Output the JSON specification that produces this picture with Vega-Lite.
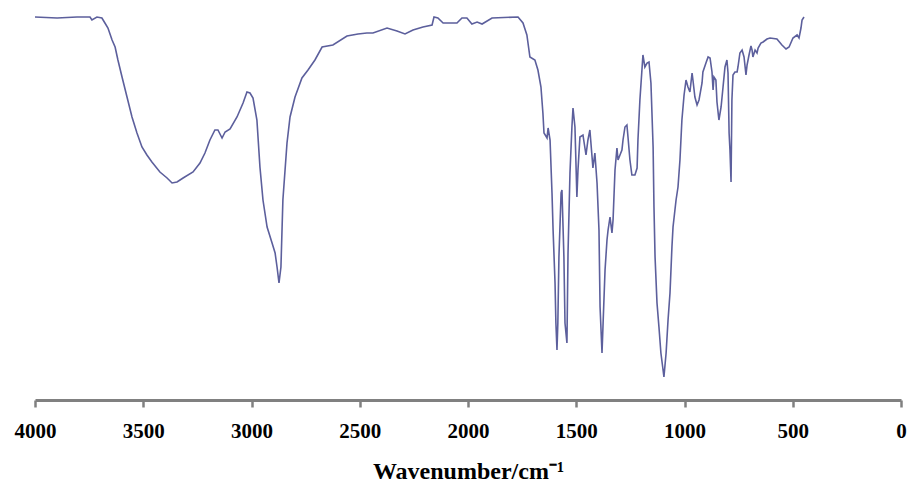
{
  "$schema": "https://vega.github.io/schema/vega-lite/v6.json",
  "width": 866,
  "height": 400,
  "autosize": "none",
  "padding": {"left": 35, "right": 8, "top": 0, "bottom": 84},
  "background": "white",
  "config": {"view": {"stroke": null}},
  "data": {"values": [
    {"wn":4000,"T":95.75},{"wn":3898,"T":95.5},{"wn":3806,"T":95.75},{"wn":3746,"T":95.75},{"wn":3737,"T":95},{"wn":3714,"T":95.75},{"wn":3691,"T":95.5},{"wn":3677,"T":94.25},{"wn":3663,"T":93},{"wn":3644,"T":90},{"wn":3630,"T":88.25},{"wn":3617,"T":85},{"wn":3598,"T":80.75},{"wn":3575,"T":75.75},{"wn":3552,"T":70.75},{"wn":3529,"T":66.75},{"wn":3506,"T":63.25},{"wn":3483,"T":61.25},{"wn":3460,"T":59.5},{"wn":3423,"T":57},{"wn":3390,"T":55.5},{"wn":3367,"T":54.25},{"wn":3344,"T":54.5},{"wn":3316,"T":55.5},{"wn":3270,"T":57},{"wn":3238,"T":59.25},{"wn":3215,"T":61.75},{"wn":3192,"T":65},{"wn":3169,"T":67.5},{"wn":3155,"T":67.5},{"wn":3136,"T":65.5},{"wn":3122,"T":67},{"wn":3099,"T":67.75},{"wn":3067,"T":70.75},{"wn":3039,"T":74.25},{"wn":3021,"T":77},{"wn":3007,"T":76.75},{"wn":2993,"T":75.5},{"wn":2975,"T":70},{"wn":2961,"T":58.25},{"wn":2947,"T":50},{"wn":2928,"T":43.25},{"wn":2905,"T":39.25},{"wn":2891,"T":36.75},{"wn":2882,"T":33.25},{"wn":2873,"T":29.25},{"wn":2864,"T":33.25},{"wn":2855,"T":50},{"wn":2836,"T":64.25},{"wn":2822,"T":70.75},{"wn":2799,"T":75.75},{"wn":2767,"T":80.5},{"wn":2739,"T":82.5},{"wn":2707,"T":85},{"wn":2674,"T":88.25},{"wn":2624,"T":88.75},{"wn":2559,"T":91},{"wn":2508,"T":91.5},{"wn":2467,"T":91.75},{"wn":2439,"T":91.75},{"wn":2374,"T":93},{"wn":2328,"T":92.25},{"wn":2291,"T":91.5},{"wn":2254,"T":92.5},{"wn":2208,"T":93.25},{"wn":2166,"T":93.75},{"wn":2157,"T":95.75},{"wn":2139,"T":95.5},{"wn":2115,"T":94.25},{"wn":2051,"T":94.25},{"wn":2028,"T":95.5},{"wn":2005,"T":95.5},{"wn":1982,"T":94},{"wn":1958,"T":94.5},{"wn":1935,"T":94},{"wn":1889,"T":95.5},{"wn":1769,"T":95.75},{"wn":1746,"T":94.25},{"wn":1728,"T":91.25},{"wn":1714,"T":85.75},{"wn":1691,"T":85},{"wn":1677,"T":82.5},{"wn":1663,"T":78.25},{"wn":1654,"T":71.75},{"wn":1649,"T":66.75},{"wn":1635,"T":65.5},{"wn":1630,"T":68},{"wn":1621,"T":65},{"wn":1612,"T":51.75},{"wn":1607,"T":42.5},{"wn":1598,"T":29.25},{"wn":1594,"T":19.25},{"wn":1589,"T":12.5},{"wn":1585,"T":19.25},{"wn":1580,"T":35.75},{"wn":1570,"T":51.75},{"wn":1566,"T":52.5},{"wn":1561,"T":43.25},{"wn":1557,"T":35.75},{"wn":1552,"T":19.25},{"wn":1543,"T":14.25},{"wn":1538,"T":36.75},{"wn":1529,"T":56.75},{"wn":1520,"T":68.25},{"wn":1515,"T":73},{"wn":1506,"T":68.25},{"wn":1497,"T":50.75},{"wn":1492,"T":57.5},{"wn":1483,"T":65.75},{"wn":1469,"T":66.25},{"wn":1455,"T":61.25},{"wn":1446,"T":65},{"wn":1437,"T":67.5},{"wn":1427,"T":60.75},{"wn":1423,"T":58},{"wn":1414,"T":61.75},{"wn":1404,"T":54.25},{"wn":1395,"T":42.5},{"wn":1390,"T":23.25},{"wn":1381,"T":11.75},{"wn":1376,"T":19.25},{"wn":1367,"T":32.5},{"wn":1358,"T":40},{"wn":1353,"T":42.5},{"wn":1344,"T":45.75},{"wn":1335,"T":41.75},{"wn":1330,"T":45},{"wn":1321,"T":57.5},{"wn":1312,"T":63},{"wn":1307,"T":60},{"wn":1298,"T":61.25},{"wn":1289,"T":62.5},{"wn":1284,"T":65},{"wn":1275,"T":68.25},{"wn":1266,"T":68.75},{"wn":1261,"T":65.75},{"wn":1252,"T":60},{"wn":1243,"T":56.25},{"wn":1229,"T":56.25},{"wn":1219,"T":58},{"wn":1215,"T":65},{"wn":1206,"T":75},{"wn":1196,"T":83},{"wn":1192,"T":86.25},{"wn":1183,"T":83.25},{"wn":1173,"T":84.25},{"wn":1164,"T":84.5},{"wn":1155,"T":79.25},{"wn":1145,"T":63.25},{"wn":1141,"T":48.25},{"wn":1136,"T":35.75},{"wn":1127,"T":24.25},{"wn":1118,"T":18.25},{"wn":1109,"T":11.75},{"wn":1099,"T":7.5},{"wn":1095,"T":5.75},{"wn":1085,"T":11.75},{"wn":1076,"T":20},{"wn":1067,"T":26.75},{"wn":1058,"T":38.25},{"wn":1053,"T":43.25},{"wn":1039,"T":50},{"wn":1030,"T":53.25},{"wn":1021,"T":60},{"wn":1012,"T":70},{"wn":1002,"T":76.25},{"wn":993,"T":80},{"wn":984,"T":78.25},{"wn":975,"T":77},{"wn":965,"T":81.75},{"wn":961,"T":80},{"wn":952,"T":75.75},{"wn":942,"T":73.75},{"wn":933,"T":75},{"wn":919,"T":79.25},{"wn":915,"T":82},{"wn":901,"T":84.25},{"wn":891,"T":85.75},{"wn":882,"T":85.5},{"wn":873,"T":82},{"wn":868,"T":77.5},{"wn":864,"T":80.75},{"wn":855,"T":80},{"wn":850,"T":74.5},{"wn":841,"T":70},{"wn":831,"T":73.25},{"wn":822,"T":78.25},{"wn":813,"T":83.25},{"wn":804,"T":85},{"wn":799,"T":81.75},{"wn":794,"T":66.75},{"wn":790,"T":62.5},{"wn":785,"T":54.5},{"wn":781,"T":75},{"wn":776,"T":81.25},{"wn":767,"T":82},{"wn":757,"T":82},{"wn":753,"T":83.25},{"wn":744,"T":86.75},{"wn":734,"T":87.5},{"wn":725,"T":85.75},{"wn":716,"T":81.25},{"wn":711,"T":83.75},{"wn":702,"T":86.25},{"wn":693,"T":88.5},{"wn":688,"T":87.5},{"wn":684,"T":85.75},{"wn":674,"T":87.5},{"wn":665,"T":86.75},{"wn":660,"T":88},{"wn":647,"T":89.25},{"wn":637,"T":89.5},{"wn":619,"T":90.25},{"wn":605,"T":90.5},{"wn":573,"T":90.25},{"wn":550,"T":88.75},{"wn":531,"T":87.75},{"wn":517,"T":88.25},{"wn":499,"T":90.5},{"wn":480,"T":91.25},{"wn":471,"T":90.5},{"wn":462,"T":93},{"wn":457,"T":95},{"wn":448,"T":95.75}
  ]},
  "mark": {"type": "line", "color": "#5c5f9c", "strokeWidth": 1.6, "interpolate": "linear"},
  "encoding": {
    "x": {
      "field": "wn", "type": "quantitative", "sort": null,
      "scale": {"domain": [0, 4000], "reverse": true, "nice": false, "zero": false},
      "axis": {
        "values": [0, 500, 1000, 1500, 2000, 2500, 3000, 3500, 4000],
        "format": "d",
        "title": "Wavenumber/cm⁻¹",
        "grid": false,
        "domainColor": "#808080", "domainWidth": 3,
        "tickColor": "#808080", "tickWidth": 2.5, "tickSize": 7,
        "labelFont": "Liberation Serif", "labelFontSize": 21, "labelFontWeight": "bold", "labelColor": "#000000",
        "labelPadding": 13, "labelFlush": false, "labelOverlap": false,
        "titleFont": "Liberation Serif", "titleFontSize": 24, "titleFontWeight": "bold", "titleColor": "#000000",
        "titlePadding": 18
      }
    },
    "y": {
      "field": "T", "type": "quantitative",
      "scale": {"domain": [0, 100], "nice": false},
      "axis": null
    }
  }
}
